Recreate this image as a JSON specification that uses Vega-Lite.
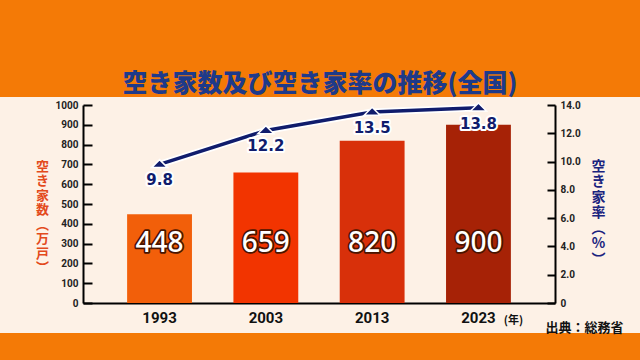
{
  "$schema": "https://vega.github.io/schema/vega-lite/v6.json",
  "width": 640,
  "height": 236,
  "autosize": {"type": "none"},
  "padding": {"left": 0, "top": 97, "right": 0, "bottom": 27},
  "background": "#f47a06",
  "view": {"fill": "#fdf1e6", "stroke": null},
  "title": {
    "text": "空き家数及び空き家率の推移(全国)",
    "fontSize": 25,
    "font": "Noto Sans CJK JP",
    "fontWeight": 900,
    "color": "#1e3a8a",
    "anchor": "middle",
    "offset": -3
  },
  "data": {
    "values": [
      {"year": "1993", "houses": 448, "rate": 9.8},
      {"year": "2003", "houses": 659, "rate": 12.2},
      {"year": "2013", "houses": 820, "rate": 13.5},
      {"year": "2023", "houses": 900, "rate": 13.8}
    ]
  },
  "layer": [
    {
      "encoding": {
        "x": {
          "field": "year",
          "type": "nominal",
          "scale": {"range": [83, 555], "paddingInner": 0.39, "paddingOuter": 0.415},
          "axis": {
            "orient": "bottom",
            "offset": -30,
            "ticks": false,
            "grid": false,
            "domainColor": "#000000",
            "domainWidth": 2,
            "labelAngle": 0,
            "labelFont": "Roboto",
            "labelFontWeight": "bold",
            "labelFontSize": 15,
            "labelColor": "#111111",
            "labelPadding": 7,
            "title": "(年)",
            "titleX": 513,
            "titleY": 17,
            "titleAlign": "center",
            "titleBaseline": "middle",
            "titleFont": "Noto Sans CJK JP",
            "titleFontWeight": "bold",
            "titleFontSize": 11,
            "titleColor": "#111111"
          }
        },
        "y": {
          "field": "houses",
          "type": "quantitative",
          "scale": {"domain": [0, 1000], "range": [206, 8], "nice": false},
          "axis": {
            "orient": "left",
            "offset": -83,
            "values": [0, 100, 200, 300, 400, 500, 600, 700, 800, 900, 1000],
            "format": "d",
            "labelOverlap": false,
            "grid": false,
            "tickSize": -9,
            "tickColor": "#000000",
            "tickWidth": 2,
            "domainColor": "#000000",
            "domainWidth": 2,
            "labelFont": "Roboto",
            "labelFontWeight": "bold",
            "labelFontSize": 10,
            "labelColor": "#222222",
            "labelPadding": 14,
            "title": ["空", "き", "家", "数", "︵", "万", "戸", "︶"],
            "titleAngle": 0,
            "titleX": -41,
            "titleY": 69,
            "titleAlign": "center",
            "titleBaseline": "middle",
            "titleFont": "Noto Sans CJK JP",
            "titleFontWeight": "bold",
            "titleFontSize": 13,
            "titleLineHeight": 14.5,
            "titleColor": "#e34a1c"
          }
        }
      },
      "layer": [
        {
          "mark": {"type": "bar"},
          "encoding": {
            "color": {
              "field": "year",
              "type": "nominal",
              "scale": {"domain": ["1993", "2003", "2013", "2023"], "range": ["#f25f0a", "#f23400", "#d8300a", "#a62206"]},
              "legend": null
            }
          }
        },
        {
          "mark": {"type": "text", "font": "Noto Sans", "fontSize": 28, "fontWeight": 500, "fill": "#4a1400", "stroke": "#4a1400", "strokeWidth": 3.5, "strokeJoin": "round", "baseline": "middle"},
          "encoding": {
            "y": {"datum": 300, "axis": {"values": [0, 100, 200, 300, 400, 500, 600, 700, 800, 900, 1000], "labelOverlap": false}},
            "text": {"field": "houses", "type": "quantitative"}
          }
        },
        {
          "mark": {"type": "text", "font": "Noto Sans", "fontSize": 28, "fontWeight": 500, "fill": "#ffffff", "baseline": "middle"},
          "encoding": {
            "y": {"datum": 300, "axis": {"values": [0, 100, 200, 300, 400, 500, 600, 700, 800, 900, 1000], "labelOverlap": false}},
            "text": {"field": "houses", "type": "quantitative"}
          }
        }
      ]
    },
    {
      "encoding": {
        "x": {
          "field": "year",
          "type": "nominal",
          "axis": {
            "orient": "bottom",
            "offset": -30,
            "labels": false,
            "ticks": false,
            "domain": false,
            "grid": false,
            "title": "出典：総務省",
            "titleX": 584,
            "titleY": 24,
            "titleAlign": "center",
            "titleBaseline": "middle",
            "titleFont": "Noto Sans CJK JP",
            "titleFontWeight": "bold",
            "titleFontSize": 13,
            "titleColor": "#111111"
          }
        },
        "y": {
          "field": "rate",
          "type": "quantitative",
          "scale": {"domain": [0, 14], "range": [206, 8], "nice": false},
          "axis": {
            "orient": "right",
            "offset": -85,
            "values": [0, 2, 4, 6, 8, 10, 12, 14],
            "labelExpr": "datum.value == 0 ? '0' : format(datum.value, '.1f')",
            "labelOverlap": false,
            "grid": false,
            "tickSize": -8,
            "tickColor": "#000000",
            "tickWidth": 2,
            "domainColor": "#000000",
            "domainWidth": 2,
            "labelFont": "Roboto",
            "labelFontWeight": "bold",
            "labelFontSize": 10,
            "labelColor": "#222222",
            "labelPadding": 13,
            "title": ["空", "き", "家", "率", "︵", "%", "︶"],
            "titleAngle": 0,
            "titleX": 43,
            "titleY": 69,
            "titleAlign": "center",
            "titleBaseline": "middle",
            "titleFont": "Noto Sans CJK JP",
            "titleFontWeight": "bold",
            "titleFontSize": 14,
            "titleLineHeight": 15.5,
            "titleColor": "#1a237e"
          }
        }
      },
      "layer": [
        {"mark": {"type": "line", "color": "#ffffff", "strokeWidth": 7, "strokeCap": "round"}},
        {"mark": {"type": "line", "color": "#101c6c", "strokeWidth": 3.5, "strokeCap": "round"}},
        {"mark": {"type": "point", "shape": "M-1,0.4L1,0.4L0,-0.6Z", "size": 256, "filled": true, "fill": "#101c6c", "stroke": "#ffffff", "strokeWidth": 1.5, "opacity": 1}},
        {
          "mark": {"type": "text", "font": "DejaVu Sans", "fontWeight": "bold", "fontSize": 15, "dy": 16, "baseline": "middle", "fill": "#ffffff", "stroke": "#ffffff", "strokeWidth": 4, "strokeJoin": "round"},
          "encoding": {"text": {"field": "rate", "type": "quantitative", "format": ".1f"}}
        },
        {
          "mark": {"type": "text", "font": "DejaVu Sans", "fontWeight": "bold", "fontSize": 15, "dy": 16, "baseline": "middle", "fill": "#101c6c"},
          "encoding": {"text": {"field": "rate", "type": "quantitative", "format": ".1f"}}
        }
      ]
    }
  ],
  "resolve": {"scale": {"y": "independent"}, "axis": {"x": "independent"}}
}
